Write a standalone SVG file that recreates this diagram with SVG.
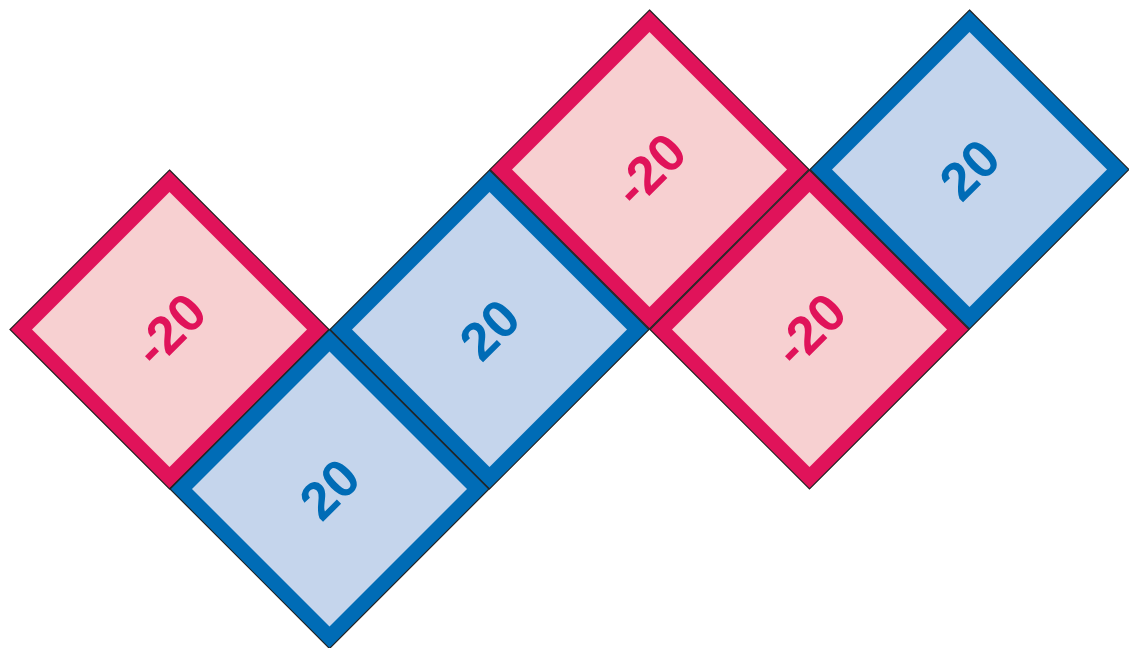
<svg xmlns="http://www.w3.org/2000/svg" width="1129" height="648" viewBox="0 0 1129 648">
<defs>
<style>
.o{stroke:#222;stroke-width:1.2}
.pk .o{fill:#E0135A}
.pk .i{fill:#F7D0D1}
.bl .o{fill:#006CB6}
.bl .i{fill:#C5D5EC}
text{font-family:"Liberation Sans",Arial,sans-serif;font-weight:bold;font-size:53px;text-anchor:middle;dominant-baseline:central}
.pk text{fill:#E0135A}
.bl text{fill:#006CB6}
</style>
</defs>
<g id="connectors"/>
<g id="n1" class="pk" transform="translate(169.5,329.5)"><polygon class="o" points="0,-159.5 159.5,0 0,159.5 -159.5,0"/><polygon class="i" points="0,-137.5 137.5,0 0,137.5 -137.5,0"/><text transform="rotate(-45)">-20</text></g>
<g id="n2" class="bl" transform="translate(329.5,489)"><polygon class="o" points="0,-159.5 159.5,0 0,159.5 -159.5,0"/><polygon class="i" points="0,-137.5 137.5,0 0,137.5 -137.5,0"/><text transform="rotate(-45)">20</text></g>
<g id="n3" class="bl" transform="translate(489.5,329.5)"><polygon class="o" points="0,-159.5 159.5,0 0,159.5 -159.5,0"/><polygon class="i" points="0,-137.5 137.5,0 0,137.5 -137.5,0"/><text transform="rotate(-45)">20</text></g>
<g id="n4" class="pk" transform="translate(649.5,169.5)"><polygon class="o" points="0,-159.5 159.5,0 0,159.5 -159.5,0"/><polygon class="i" points="0,-137.5 137.5,0 0,137.5 -137.5,0"/><text transform="rotate(-45)">-20</text></g>
<g id="n5" class="pk" transform="translate(809.5,329.5)"><polygon class="o" points="0,-159.5 159.5,0 0,159.5 -159.5,0"/><polygon class="i" points="0,-137.5 137.5,0 0,137.5 -137.5,0"/><text transform="rotate(-45)">-20</text></g>
<g id="n6" class="bl" transform="translate(969.5,169.5)"><polygon class="o" points="0,-159.5 159.5,0 0,159.5 -159.5,0"/><polygon class="i" points="0,-137.5 137.5,0 0,137.5 -137.5,0"/><text transform="rotate(-45)">20</text></g>
</svg>
